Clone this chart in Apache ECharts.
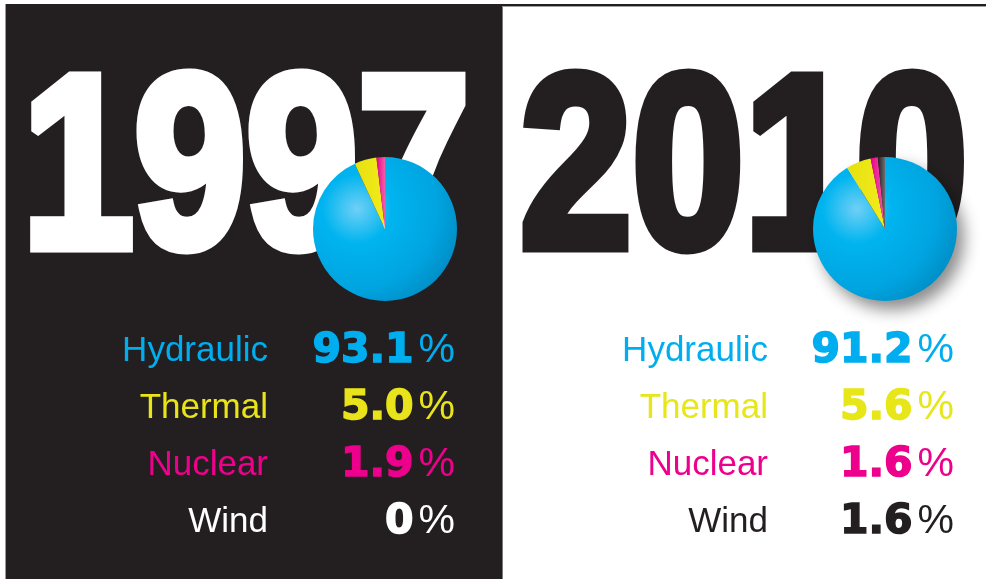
<!DOCTYPE html>
<html>
<head>
<meta charset="utf-8">
<script src="https://cdn.jsdelivr.net/npm/echarts@6/dist/echarts.min.js"></script>
<style>html,body{margin:0;padding:0;background:#fff}#c{width:986px;height:579px}</style>
</head>
<body>
<div id="c"></div>
<script>
// ---- data ----
var categories = ['Hydraulic', 'Thermal', 'Nuclear', 'Wind'];
var years = ['1997', '2010'];
var values1997 = [93.1, 5.0, 1.9, 0];
var values2010 = [91.2, 5.6, 1.6, 1.6];
var valueLabels1997 = ['93.1', '5.0', '1.9', '0'];
var valueLabels2010 = ['91.2', '5.6', '1.6', '1.6'];

// ---- styling ----
var DARK = '#231f20';
var CYAN = '#00aeef';
var YELLOW = '#e8e31a';
var PINK = '#ec008c';
var panels = [
  {year: years[0], values: values1997, labels: valueLabels1997, cx: 385, cy: 229, yearX: 22, yearColor: '#ffffff',
   nameRight: 268, valRight: 455, textColors: [CYAN, YELLOW, PINK, '#ffffff'], shadow: false},
  {year: years[1], values: values2010, labels: valueLabels2010, cx: 885, cy: 229, yearX: 520, yearColor: DARK,
   nameRight: 768, valRight: 954, textColors: [CYAN, '#e6e619', PINK, DARK], shadow: true}
];
var rowY = [351, 408, 465, 522];
var R = 72;

function sliceColors(p) {
  return [
    {type: 'radial', x: p.cx - 28, y: p.cy - 20, r: 115, global: true,
     colorStops: [{offset: 0, color: '#6fd0f6'}, {offset: 0.3, color: '#00b4ef'}, {offset: 0.7, color: '#00a4e0'}, {offset: 1, color: '#0088c0'}]},
    {type: 'linear', x: 0, y: 0, x2: 1, y2: 0, colorStops: [{offset: 0, color: '#e6e010'}, {offset: 1, color: '#f2ec1c'}]},
    {type: 'linear', x: 0, y: 0, x2: 1, y2: 0, colorStops: [{offset: 0, color: '#ec008c'}, {offset: 1, color: '#f060a8'}]},
    {type: 'linear', x: 0, y: 0, x2: 1, y2: 0, colorStops: [{offset: 0, color: '#231f20'}, {offset: 1, color: '#6d6e71'}]}
  ];
}

var graphics = [
  {type: 'rect', z: 0, z2: 0, shape: {x: 6, y: 4, width: 496, height: 580}, style: {fill: DARK}},
  {type: 'rect', z: 0, z2: 0, shape: {x: 5, y: 4, width: 1, height: 580}, style: {fill: '#9a9a9a'}},
  {type: 'rect', z: 0, z2: 0, shape: {x: 502, y: 4, width: 1, height: 580}, style: {fill: '#7a7a7a'}},
  {type: 'rect', z: 0, z2: 0, shape: {x: 502, y: 4, width: 484, height: 2}, style: {fill: DARK}},
  {type: 'rect', z: 0, z2: 0, shape: {x: 502, y: 6, width: 484, height: 1}, style: {fill: '#a0a0a0'}}
];

var series = [];
panels.forEach(function (p, pi) {
  graphics.push({
    type: 'text', z: 0, z2: 5, x: p.yearX, y: 179, scaleX: 0.815, scaleY: 1,
    style: {text: p.year, x: 0, y: 0, textAlign: 'left', textVerticalAlign: 'middle',
      font: 'bold 247px "Liberation Sans", Arial, sans-serif', fill: p.yearColor,
      stroke: p.yearColor, lineWidth: 11, lineJoin: 'round'}
  });
  categories.forEach(function (c, i) {
    graphics.push({
      type: 'text', z: 0, z2: 5, x: p.nameRight, y: rowY[i],
      style: {text: c, textAlign: 'right', textVerticalAlign: 'middle',
        font: '35px "Liberation Sans", Arial, sans-serif', fill: p.textColors[i]}
    });
    graphics.push({
      type: 'text', z: 0, z2: 5, x: p.valRight, y: rowY[i],
      style: {text: '{n|' + p.labels[i] + '}{g| }{p|%}', textAlign: 'right', textVerticalAlign: 'middle',
        fill: p.textColors[i],
        rich: {
          n: {font: 'bold 41px "DejaVu Sans", sans-serif', fill: p.textColors[i], stroke: p.textColors[i], lineWidth: 1.5},
          g: {font: '18px "Liberation Sans"', fill: p.textColors[i]},
          p: {font: '41px "Liberation Sans", Arial, sans-serif', fill: p.textColors[i]}
        }}
    });
  });
  var cols = sliceColors(p);
  series.push({
    type: 'pie', z: 3, center: [p.cx, p.cy], radius: [0, R], startAngle: 90, clockwise: true,
    silent: true, animation: false, label: {show: false}, labelLine: {show: false},
    emphasis: {disabled: true},
    data: categories.map(function (c, i) {
      var it = {name: c, value: p.values[i], itemStyle: {color: cols[i], borderWidth: 0}};
      if (i === 0 && p.shadow) {
        it.itemStyle.shadowBlur = 16; it.itemStyle.shadowOffsetX = 7; it.itemStyle.shadowOffsetY = 9;
        it.itemStyle.shadowColor = 'rgba(0,0,0,0.45)';
      }
      return it;
    })
  });
});

var chart = echarts.init(document.getElementById('c'), null, {renderer: 'canvas'});
chart.setOption({
  backgroundColor: '#ffffff',
  animation: false,
  graphic: {elements: graphics},
  series: series
});
</script>
</body>
</html>
